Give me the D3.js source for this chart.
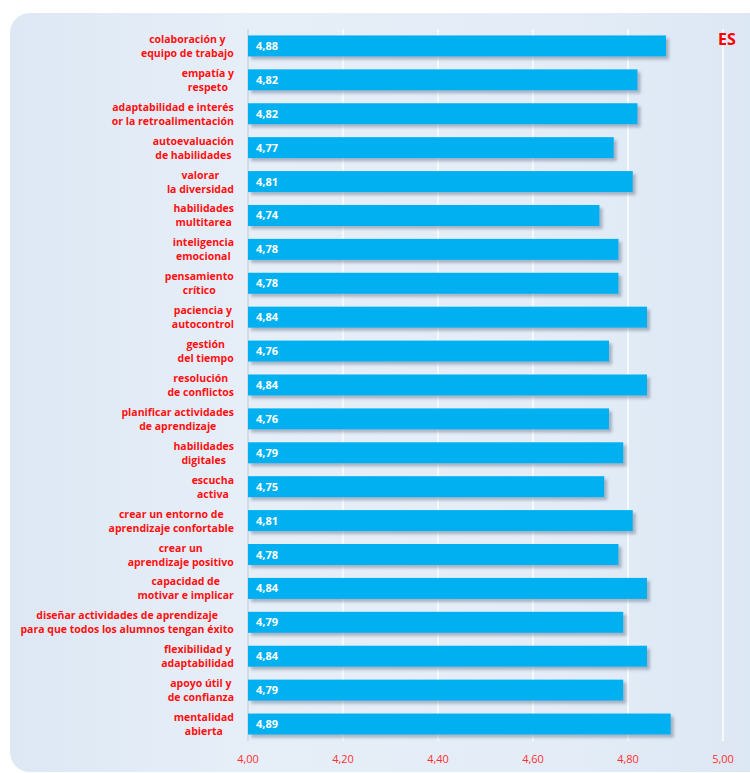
<!DOCTYPE html>
<html><head><meta charset="utf-8">
<script src="https://cdn.jsdelivr.net/npm/d3@7"></script>
<style>html,body{margin:0;padding:0;background:#fff;}svg{display:block;}</style>
</head><body>
<script>
const categories = [
  ["colaboración y","equipo de trabajo"],
  ["empatía y","respeto"],
  ["adaptabilidad e interés","or la retroalimentación"],
  ["autoevaluación","de habilidades"],
  ["valorar","la diversidad"],
  ["habilidades","multitarea"],
  ["inteligencia","emocional"],
  ["pensamiento","crítico"],
  ["paciencia y","autocontrol"],
  ["gestión","del tiempo"],
  ["resolución","de conflictos"],
  ["planificar actividades","de aprendizaje"],
  ["habilidades","digitales"],
  ["escucha","activa"],
  ["crear un entorno de","aprendizaje confortable"],
  ["crear un","aprendizaje positivo"],
  ["capacidad de","motivar e implicar"],
  ["diseñar actividades de aprendizaje","para que todos los alumnos tengan éxito"],
  ["flexibilidad y","adaptabilidad"],
  ["apoyo útil y","de confianza"],
  ["mentalidad","abierta"]
];
const values = [4.88,4.82,4.82,4.77,4.81,4.74,4.78,4.78,4.84,4.76,4.84,4.76,4.79,4.75,4.81,4.78,4.84,4.79,4.84,4.79,4.89];
const ticks = [4.00,4.20,4.40,4.60,4.80,5.00];
const title = "ES";

const W=750,H=773;
const svg=d3.select("body").append("svg").attr("width",W).attr("height",H);
const defs=svg.append("defs");
const g1=defs.append("linearGradient").attr("id","bg").attr("x1","0").attr("y1","0").attr("x2","1").attr("y2","0");
g1.append("stop").attr("offset","0").attr("stop-color","#dde8f4");
g1.append("stop").attr("offset","0.3").attr("stop-color","#e6eef8");
g1.append("stop").attr("offset","0.7").attr("stop-color","#e4edf7");
g1.append("stop").attr("offset","1").attr("stop-color","#dce7f4");
const f=defs.append("filter").attr("id","sh").attr("x","-5%").attr("y","-30%").attr("width","115%").attr("height","180%");
f.append("feDropShadow").attr("dx",3).attr("dy",3).attr("stdDeviation",1.6).attr("flood-color","#5a6a80").attr("flood-opacity",0.45);

svg.append("rect").attr("x",10).attr("y",13).attr("width",760).attr("height",759).attr("rx",20).attr("fill","url(#bg)");

const x=d3.scaleLinear().domain([4,5]).range([248,723]);
const idx=categories.map((d,i)=>i);
const y=d3.scaleBand().domain(idx).range([29,741]).paddingInner(0.38).paddingOuter(0.19);

// gridlines
svg.append("g").selectAll("line").data(ticks).join("line")
  .attr("x1",d=>x(d)).attr("x2",d=>x(d)).attr("y1",29).attr("y2",741)
  .attr("stroke",d=>d===4?"#d3dbe4":"#f6f9fd").attr("stroke-width",2);

// bars
svg.append("g").selectAll("rect").data(values).join("rect")
  .attr("x",x(4)).attr("y",(d,i)=>y(i)).attr("width",d=>x(d)-x(4)).attr("height",y.bandwidth())
  .attr("fill","#00b0f0").attr("filter","url(#sh)");

// value labels
svg.append("g").selectAll("text").data(values).join("text")
  .attr("x",x(4)+8).attr("y",(d,i)=>y(i)+y.bandwidth()/2+4)
  .attr("fill","#fff").attr("font-family","'Open Sans','Liberation Sans',sans-serif").attr("font-weight","bold").attr("font-size",11)
  .text(d=>d.toFixed(2).replace(".",","));

// category labels
const lg=svg.append("g");
categories.forEach((lines,i)=>{
  const cy=y(i)+y.bandwidth()/2;
  const gg=lg.append("g");
  const t=gg.append("text").attr("text-anchor","middle").attr("fill","#ff1010")
    .attr("font-family","'Open Sans','Liberation Sans',sans-serif").attr("font-weight","bold").attr("font-size",10.5);
  lines.forEach((l,k)=>t.append("tspan").attr("x",0).attr("y",k===0?-3:11).text(l));
  const bb=t.node().getBBox();
  gg.attr("transform",`translate(${234-bb.width/2},${cy})`);
});

// axis tick labels
svg.append("g").selectAll("text").data(ticks).join("text")
  .attr("x",d=>x(d)).attr("y",763).attr("text-anchor","middle").attr("fill","#ff3030")
  .attr("font-family","'Open Sans','Liberation Sans',sans-serif").attr("font-size",11)
  .text(d=>d.toFixed(2).replace(".",","));

svg.append("text").attr("x",727).attr("y",45).attr("text-anchor","middle").attr("fill","#ff0000")
  .attr("font-family","'Open Sans','Liberation Sans',sans-serif").attr("font-weight","bold").attr("font-size",16).text(title);
</script>
</body></html>
